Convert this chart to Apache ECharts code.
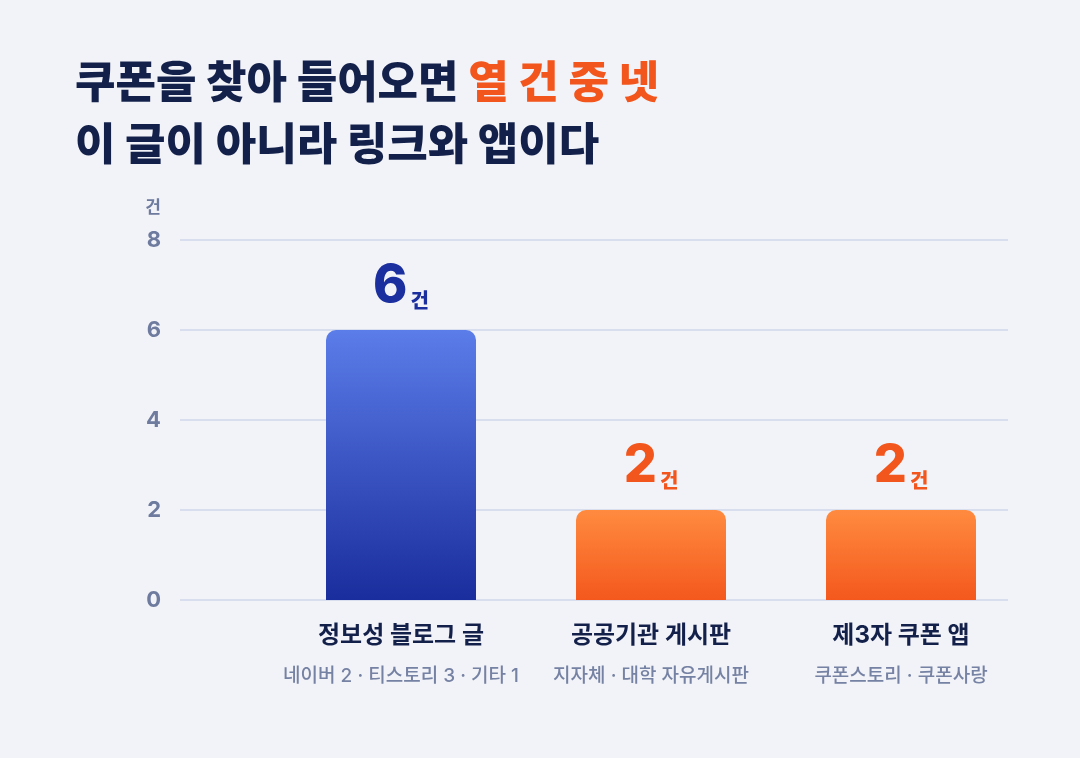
<!DOCTYPE html>
<html><head><meta charset="utf-8">
<script src="https://cdn.jsdelivr.net/npm/echarts@6/dist/echarts.min.js"></script>
<style>html,body{margin:0;padding:0;background:#f2f3f8;}#c{width:1080px;height:758px;}</style>
</head><body><div id="c"></div>
<script>
const categories = ['정보성 블로그 글', '공공기관 게시판', '제3자 쿠폰 앱'];
const subLabels = ['네이버 2 · 티스토리 3 · 기타 1', '지자체 · 대학 자유게시판', '쿠폰스토리 · 쿠폰사랑'];
const values = [6, 2, 2];
const highlight = [false, true, true];
const yTicks = [0, 2, 4, 6, 8];
const unit = '건';

const FONT = 'Inter, "Noto Sans CJK KR", "Noto Sans", sans-serif';
const NAVY = '#13204a';
const BLUE = '#1b2f9e';
const ORANGE = '#f2561d';
const GREY = '#6e7b9e';

function barColor(i) {
  return highlight[i]
    ? new echarts.graphic.LinearGradient(0, 0, 0, 1, [{offset: 0, color: '#ff8b3f'}, {offset: 1, color: '#f4581d'}])
    : new echarts.graphic.LinearGradient(0, 0, 0, 1, [{offset: 0, color: '#5b7de9'}, {offset: 1, color: '#1a2d9c'}]);
}

const chart = echarts.init(document.getElementById('c'), null, {renderer: 'canvas'});
chart.setOption({
  backgroundColor: '#f2f3f8',
  animation: false,
  title: {
    left: 70, top: 49,
    text: '{d|쿠폰을 찾아 들어오면 }{o|열 건 중 넷}\n{d|이 글이 아니라 링크와 앱이다}',
    textStyle: {
      rich: {
        d: {fontFamily: FONT, fontSize: 44, fontWeight: 800, color: NAVY, lineHeight: 62},
        o: {fontFamily: FONT, fontSize: 44, fontWeight: 800, color: ORANGE, lineHeight: 62}
      }
    }
  },
  grid: [
    {left: 180, right: 72, top: 240, bottom: 158},
    {left: 276, right: 54, top: 240, bottom: 158}
  ],
  xAxis: [
    {gridIndex: 0, type: 'category', data: categories, show: false},
    {gridIndex: 1, type: 'category', data: categories,
      axisLine: {show: false}, axisTick: {show: false},
      axisLabel: {
        margin: 16, interval: 0,
        formatter: function (v, i) { return '{a|' + v + '}\n{b|' + subLabels[i] + '}'; },
        rich: {
          a: {fontFamily: FONT, fontSize: 24, fontWeight: 700, color: NAVY, lineHeight: 40},
          b: {fontFamily: FONT, fontSize: 19, fontWeight: 500, color: '#7682a3', lineHeight: 40}
        }
      }
    }
  ],
  yAxis: [
    {gridIndex: 0, type: 'value', min: yTicks[0], max: yTicks[yTicks.length - 1], interval: 2,
      name: unit, nameLocation: 'end', nameGap: 32,
      nameTextStyle: {fontFamily: FONT, fontSize: 17, fontWeight: 700, color: GREY, align: 'right', verticalAlign: 'middle', padding: [0, 19, 0, 0]},
      axisLine: {show: false}, axisTick: {show: false},
      axisLabel: {margin: 19, fontFamily: FONT, fontSize: 22, fontWeight: 700, color: GREY},
      splitLine: {lineStyle: {color: '#d9deee', width: 2}}
    },
    {gridIndex: 1, type: 'value', min: yTicks[0], max: yTicks[yTicks.length - 1], interval: 2, show: false, splitLine: {show: false}}
  ],
  series: [{
    type: 'bar',
    xAxisIndex: 1, yAxisIndex: 1,
    barWidth: 150,
    data: values.map(function (v, i) {
      return {
        value: v,
        itemStyle: {color: barColor(i), borderRadius: [10, 10, 0, 0]},
        label: {color: highlight[i] ? ORANGE : BLUE}
      };
    }),
    label: {
      show: true, position: 'top', distance: 18,
      formatter: function (p) { return '{v|' + p.value + '}{u|' + unit + '}'; },
      rich: {
        v: {fontFamily: FONT, fontSize: 52, fontWeight: 800, verticalAlign: 'bottom', lineHeight: 52},
        u: {fontFamily: FONT, fontSize: 20, fontWeight: 800, verticalAlign: 'bottom', lineHeight: 28, padding: [0, 0, 0, 3]}
      }
    }
  }]
});
</script></body></html>
